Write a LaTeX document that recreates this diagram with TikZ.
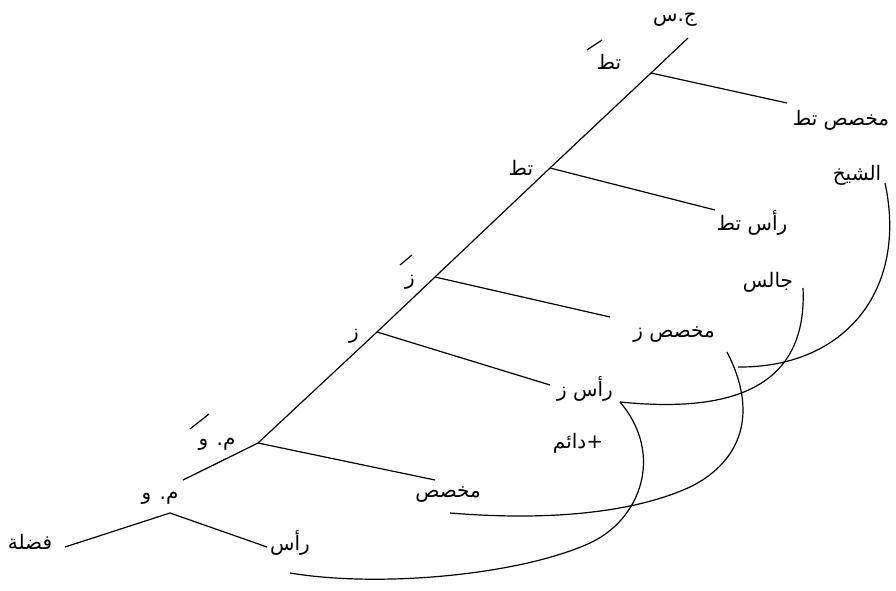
\documentclass[tikz,border=0pt]{standalone}
\usepackage{fontspec}
\newfontfamily\arabicfont[Script=Arabic]{DejaVu Sans}
\TeXXeTstate=1
\newcommand{\artext}[1]{{\arabicfont\beginR #1\endR}}
\tikzset{
  lbl/.style={inner sep=0pt,font=\fontsize{20}{24}\selectfont},
  barmark/.style={line width=1.2pt},
  movearc/.style={line width=1.2pt},
}
\begin{document}
\begin{tikzpicture}[x=1pt,y=-1pt,line width=1.2pt]
  \useasboundingbox (0,0) rectangle (896,591);
  % junctions on the spine
  \coordinate (cp) at (688,38);
  \coordinate (tbar) at (651,73);
  \coordinate (t) at (550,168);
  \coordinate (zbar) at (435,277);
  \coordinate (z) at (377,332);
  \coordinate (mwbar) at (258,443);
  \coordinate (mwtop) at (183,480);
  \coordinate (mw) at (170,513);
  % free ends of the branches
  \coordinate (spectend) at (787,103);
  \coordinate (headtend) at (715,210);
  \coordinate (speczend) at (610,317);
  \coordinate (headzend) at (550,385);
  \coordinate (specend) at (435,480);
  \coordinate (complend) at (65,547);
  \coordinate (headend) at (267,547);
  % labels
  \node[lbl] (cplbl) at (675,20) {\artext{ج.س}};
  \node[lbl] (tbarlbl) at (609,62) {\artext{تط}};
  \node[lbl] (spectlbl) at (841,120) {\artext{مخصص تط}};
  \node[lbl] (sheikh) at (857,175) {\artext{الشيخ}};
  \node[lbl] (tlbl) at (521,168) {\artext{تط}};
  \node[lbl] (headtlbl) at (752,223) {\artext{رأس تط}};
  \node[lbl] (jalis) at (768,282) {\artext{جالس}};
  \node[lbl] (zbarlbl) at (410,282) {\artext{ز}};
  \node[lbl] (speczlbl) at (674,335) {\artext{مخصص ز}};
  \node[lbl] (zlbl) at (354,336) {\artext{ز}};
  \node[lbl] (headzlbl) at (585,389) {\artext{رأس ز}};
  \node[lbl] (daim) at (578,443) {\artext{+دائم}};
  \node[lbl] (mwbarlbl) at (217,444) {\artext{م. و}};
  \node[lbl] (speclbl) at (448,495) {\artext{مخصص}};
  \node[lbl] (mwlbl) at (160,498) {\artext{م. و}};
  \node[lbl] (compllbl) at (30,542) {\artext{فضلة}};
  \node[lbl] (headlbl) at (290,543) {\artext{رأس}};
  % bars
  \draw[barmark] (587,50) -- (602,40);
  \draw[barmark] (400,265) -- (412,255);
  \draw[barmark] (190,429) -- (209,414);
  % tree
  \draw (cp) -- (tbar) -- (t) -- (zbar) -- (z) -- (mwbar) -- (mwtop);
  \draw (tbar) -- (spectend);
  \draw (t) -- (headtend);
  \draw (zbar) -- (speczend);
  \draw (z) -- (headzend);
  \draw (mwbar) -- (specend);
  \draw (complend) -- (mw) -- (headend);
  % movement arcs
  \coordinate (sheikhfoot) at (885,183);
  \coordinate (speczfoot) at (738,367);
  \coordinate (speczstart) at (727,352);
  \coordinate (specfoot) at (450,513);
  \coordinate (jalisfoot) at (803,288);
  \coordinate (headzfoot) at (620,402);
  \coordinate (headfoot) at (290,573);
  \draw[movearc] (speczfoot) .. controls (845,368) and (908,290) .. (sheikhfoot);
  \draw[movearc] (specfoot) .. controls (560,522) and (640,510) .. (690,487)
    .. controls (735,465) and (762,420) .. (speczstart);
  \draw[movearc] (headzfoot) .. controls (720,412) and (808,395) .. (jalisfoot);
  \draw[movearc] (headfoot) .. controls (380,588) and (520,575) .. (590,543)
    .. controls (640,520) and (665,455) .. (headzfoot);
\end{tikzpicture}
\end{document}
